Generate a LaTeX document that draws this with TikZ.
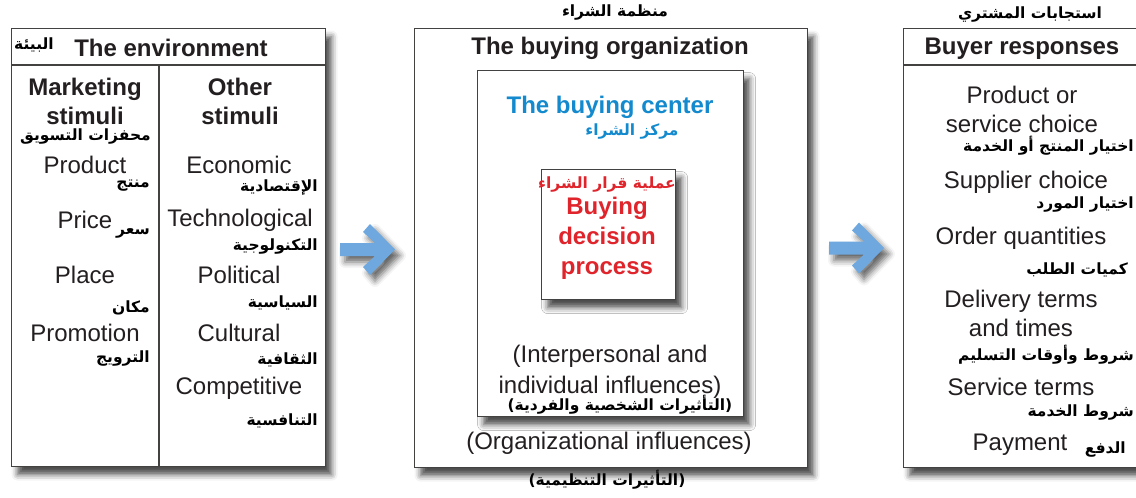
\documentclass[tikz,border=0pt]{standalone}
\usepackage{fontspec}
\setmainfont{Liberation Sans}
\newfontfamily\arabicfont[Script=Arabic]{DejaVu Sans}
\TeXXeTstate=1
\usetikzlibrary{shadows.blur}

\definecolor{inkgray}{RGB}{35,31,32}
\definecolor{centerblue}{RGB}{20,138,206}
\definecolor{processred}{RGB}{224,36,44}
\definecolor{arrowblue}{RGB}{110,168,222}

\newcommand{\artxt}[1]{\beginR #1\endR}

\tikzset{
  panel/.style={draw=inkgray!85, line width=1.2pt, fill=white, anchor=north west, inner sep=0pt,
    blur shadow={shadow xshift=6pt, shadow yshift=-8pt, shadow blur radius=6pt, shadow opacity=70}},
  divider/.style={draw=inkgray!85, line width=1.2pt},
  en/.style={text=inkgray, font=\fontsize{24}{29}\selectfont, align=center, inner sep=0pt},
  enbold/.style={en, font=\fontsize{24}{29}\selectfont\bfseries},
  ar/.style={text=black, font=\fontsize{15.5}{18}\selectfont\arabicfont\bfseries, inner sep=0pt},
  flowfill/.style={fill=arrowblue,
    blur shadow={shadow xshift=5pt, shadow yshift=-6pt, shadow blur radius=6pt, shadow opacity=60}},
}

\begin{document}
\begin{tikzpicture}[x=1pt,y=-1pt]
  \useasboundingbox (0,0) rectangle (1136,498);

  % boxes
  \node[panel, minimum width=314pt, minimum height=438pt] (env) at (11,28) {};
  \node[panel, minimum width=393pt, minimum height=439pt] (org) at (414,28) {};
  \node[panel, minimum width=266pt, minimum height=346pt] (center) at (477,70) {};
  \node[panel, minimum width=134pt, minimum height=130pt] (decision) at (541,169) {};
  \node[panel, minimum width=260pt, minimum height=439pt] (resp) at (903,28) {};

  \draw[divider] ([yshift=-37pt]env.north west) -- ([yshift=-37pt]env.north east);
  \draw[divider] ([xshift=148pt,yshift=-37pt]env.north west) -- ([xshift=148pt]env.south west);
  \draw[divider] ([yshift=-37pt]resp.north west) -- ([yshift=-37pt]resp.north east);

  % arrows
  \coordinate (flow1) at (340,249.5);
  \coordinate (flow2) at (829,248);
  \foreach \f in {flow1,flow2}
    \fill[flowfill] (\f) ++(0,-6.5) -- ++(35,0) -- ++(-12,-11) -- ++(7,-8) -- ++(25,25.5)
      -- ++(-25,25.5) -- ++(-7,-8) -- ++(12,-11) -- ++(-35,0) -- cycle;

  % the environment
  \node[enbold] (envtitle) at (171,48) {The environment};
  \node[ar] (envtitlear) at (34,45) {\artxt{البيئة}};
  \node[enbold] (mktstim) at (85,101) {Marketing\\stimuli};
  \node[ar, anchor=east] (mktstimar) at (151,137) {\artxt{محفزات التسويق}};
  \node[en] (product) at (85,165) {Product};
  \node[ar, anchor=east] (productar) at (150,186) {\artxt{منتج}};
  \node[en] (price) at (85,220) {Price};
  \node[ar, anchor=east] (pricear) at (150,233) {\artxt{سعر}};
  \node[en] (place) at (85,275) {Place};
  \node[ar, anchor=east] (placear) at (150,308) {\artxt{مكان}};
  \node[en] (promotion) at (85,333) {Promotion};
  \node[ar, anchor=east] (promotionar) at (150,358) {\artxt{الترويج}};
  \node[enbold] (othstim) at (240,101) {Other\\stimuli};
  \node[en] (economic) at (239,165) {Economic};
  \node[ar, anchor=east] (economicar) at (318,188) {\artxt{الإقتصادية}};
  \node[en] (techno) at (240,220) {Technological};
  \node[ar, anchor=east] (technoar) at (318,247) {\artxt{التكنولوجية}};
  \node[en] (political) at (239,275) {Political};
  \node[ar, anchor=east] (politicalar) at (318,303) {\artxt{السياسية}};
  \node[en] (cultural) at (239,333) {Cultural};
  \node[ar, anchor=east] (culturalar) at (318,360) {\artxt{الثقافية}};
  \node[en] (competitive) at (239,388) {Competitive};
  \node[ar, anchor=east] (competitivear) at (318,421) {\artxt{التنافسية}};

  % the buying organization
  \node[ar] (orgtitlear) at (615,13) {\artxt{منظمة الشراء}};
  \node[enbold] (orgtitle) at (610,48) {The buying organization};
  \node[enbold, text=centerblue] (centertitle) at (610,107) {The buying center};
  \node[ar, text=centerblue] (centertitlear) at (632,132) {\artxt{مركز الشراء}};
  \node[ar, text=processred] (processar) at (607,185) {\artxt{عملية قرار الشراء}};
  \node[enbold, text=processred, font=\fontsize{24}{30}\selectfont\bfseries] (processtitle) at (607,238) {Buying\\decision\\process};
  \node[en, font=\fontsize{24}{31}\selectfont] (interp) at (610,372) {(Interpersonal and\\individual influences)};
  \node[ar] (interpar) at (620,405) {\artxt{(التأثيرات الشخصية والفردية)}};
  \node[en] (orginfl) at (609,443) {(Organizational influences)};
  \node[ar] (orginflar) at (607,480) {\artxt{(التأثيرات التنظيمية)}};

  % buyer responses
  \node[ar] (resptitlear) at (1030,15) {\artxt{استجابات المشتري}};
  \node[enbold] (resptitle) at (1022,49) {Buyer responses};
  \node[en] (prodchoice) at (1022,109) {Product or\\service choice};
  \node[ar, anchor=east] (prodchoicear) at (1134,146) {\artxt{اختيار المنتج أو الخدمة}};
  \node[en] (supplier) at (1026,182) {Supplier choice};
  \node[ar, anchor=east] (supplierar) at (1134,205) {\artxt{اختيار المورد}};
  \node[en] (orderq) at (1021,238) {Order quantities};
  \node[ar, anchor=east] (orderqar) at (1128,270) {\artxt{كميات الطلب}};
  \node[en] (delivery) at (1021,313) {Delivery terms\\and times};
  \node[ar, anchor=east] (deliveryar) at (1134,355) {\artxt{شروط وأوقات التسليم}};
  \node[en] (service) at (1021,387) {Service terms};
  \node[ar, anchor=east] (servicear) at (1134,412) {\artxt{شروط الخدمة}};
  \node[en] (payment) at (1020,445) {Payment};
  \node[ar, anchor=east] (paymentar) at (1126,449) {\artxt{الدفع}};
\end{tikzpicture}
\end{document}
